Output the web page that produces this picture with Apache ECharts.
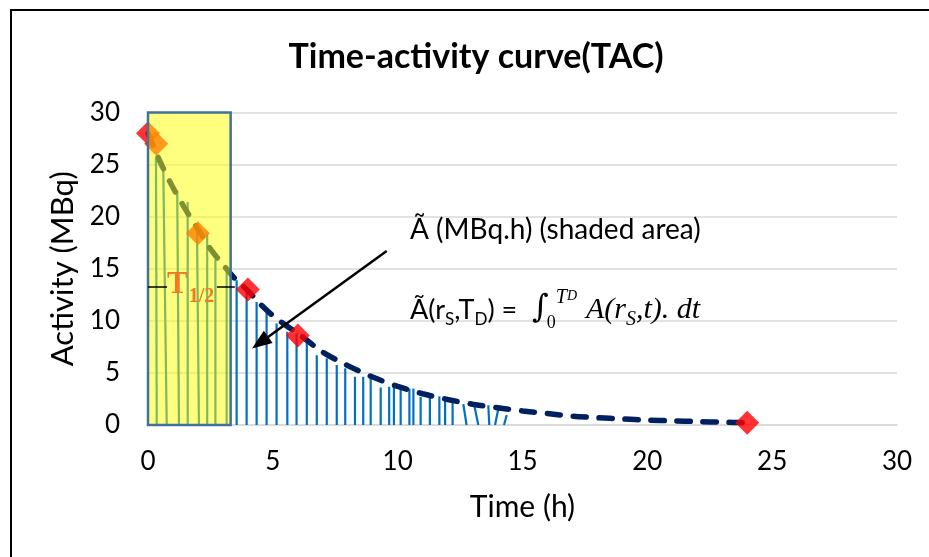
<!DOCTYPE html>
<html><head><meta charset="utf-8">
<script src="https://cdn.jsdelivr.net/npm/echarts@6/dist/echarts.min.js"></script>
<style>html,body{margin:0;padding:0;background:#fff}#c{width:929px;height:557px}</style>
</head><body><div id="c"></div>
<script>
// ---- data ----
const xTicks = [0, 5, 10, 15, 20, 25, 30];
const yTicks = [0, 5, 10, 15, 20, 25, 30];
// fitted TAC curve (dashed)
const curveTime     = [0, 0.5, 1, 1.5, 2, 2.5, 3, 3.5, 4, 4.5, 5, 5.5, 6, 7, 8, 9, 10, 11, 12, 13, 14, 15, 16, 17, 18, 19, 20, 21, 22, 23, 24];
const curveActivity = [28, 25.2, 22.8, 20.7, 18.8, 16.9, 15.4, 14.0, 12.9, 11.6, 10.5, 9.6, 8.8, 7.0, 5.7, 4.6, 3.7, 3.0, 2.45, 2.0, 1.65, 1.35, 1.1, 0.85, 0.7, 0.58, 0.48, 0.4, 0.33, 0.27, 0.22];
// measured points (diamonds)
const measuredTime     = [0, 0.33, 2, 4, 6, 24];
const measuredActivity = [28, 27, 18.4, 13, 8.6, 0.22];
// hatching lines under the curve: top point and foot on the time axis
const hatchTopTime     = [0.32, 0.61, 1.17, 1.59, 1.96, 2.37, 2.70, 3.15, 3.55, 3.95, 4.35, 4.75, 5.15, 5.58, 5.95, 6.36, 6.76, 7.16, 7.56, 7.90, 8.29, 8.62, 8.92, 9.32, 9.66, 9.85, 10.12, 10.47, 10.63, 10.92, 11.29, 11.67, 11.90, 12.20, 12.63, 13.06, 13.63, 14.06, 14.37];
const hatchTopActivity = [25.7, 24.9, 22.5, 21.4, 19.4, 18.4, 15.9, 15.0, 13.9, 12.9, 11.8, 10.9, 9.75, 8.95, 8.8, 8.0, 6.7, 6.4, 5.75, 5.44, 4.63, 4.63, 4.63, 3.6, 3.67, 3.67, 3.6, 3.5, 3.5, 2.7, 2.7, 2.75, 2.7, 2.55, 2.0, 2.0, 1.9, 1.9, 0.96];
const hatchBaseTime    = [0.35, 0.75, 1.24, 1.59, 2.04, 2.37, 2.70, 3.15, 3.55, 3.95, 4.35, 4.75, 5.15, 5.58, 5.95, 6.36, 6.76, 7.16, 7.56, 7.90, 8.29, 8.62, 8.92, 9.32, 9.66, 9.85, 10.12, 10.47, 10.63, 10.92, 11.29, 11.67, 11.90, 12.20, 12.76, 13.23, 13.67, 13.90, 14.26];
// shaded half-life box
const shadeStartTime = 0, shadeEndTime = 3.31, shadeBottom = 0, shadeTop = 30;
// half-life marker level and extent
const halfLifeLevel = 13.3;
const halfLifeSegA = [0, 0.76];
const halfLifeSegB = [2.76, 3.48];
// arrow (time, activity)
const arrowFrom = [9.56, 16.7];
const arrowTo   = [4.49, 7.9];

const chart = echarts.init(document.getElementById('c'), null, {renderer: 'canvas'});
const F = 'Lato, "Noto Sans", sans-serif';
const S = '"Liberation Serif", "DejaVu Serif", serif';

const hatchData = hatchTopTime.map((t, i) => [t, hatchTopActivity[i], hatchBaseTime[i]]);
const curveData = curveTime.map((t, i) => [t, curveActivity[i]]);
const pointData = measuredTime.map((t, i) => [t, measuredActivity[i]]);

// lay out text pieces one after another (for sub/superscripts)
const mctx = document.createElement('canvas').getContext('2d');
function pieces(x0, list, fill) {
  let x = x0;
  return list.map(p => {
    const weight = p.weight || 'normal', style = p.style || 'normal';
    mctx.font = style + ' ' + weight + ' ' + p.size + 'px ' + p.family;
    const w = mctx.measureText(p.text).width;
    x += (p.pre || 0);
    const el = {type: 'text', z: 100, x: x, y: p.y,
      style: {text: p.text, fontSize: p.size, fontFamily: p.family, fontWeight: weight, fontStyle: style,
        fill: fill || '#000', align: 'left', verticalAlign: 'middle', textAlign: 'left', textVerticalAlign: 'middle'}};
    x += w;
    return el;
  });
}

const formula = pieces(410, [
  {text: 'Ã(r', size: 27, family: F, y: 310},
  {text: 'S', size: 17, family: F, y: 320},
  {text: ',T', size: 27, family: F, y: 310},
  {text: 'D', size: 17, family: F, y: 320},
  {text: ') = ', size: 27, family: F, y: 310},
  {text: '∫', size: 32, family: '"DejaVu Serif", serif', style: 'italic', y: 309, pre: 8},
  {text: '0', size: 18, family: S, y: 323, pre: -2},
  {text: 'T', size: 20, family: S, style: 'italic', y: 298},
  {text: 'D', size: 14, family: S, style: 'italic', y: 296},
  {text: 'A(r', size: 30, family: S, style: 'italic', y: 310, pre: 9},
  {text: 'S', size: 20, family: S, style: 'italic', y: 320},
  {text: ',t). dt', size: 30, family: S, style: 'italic', y: 310}
]);
const halfLabel = pieces(167, [
  {text: 'T', size: 31, family: S, weight: 'bold', y: 285},
  {text: '1/2', size: 20, family: S, weight: 'bold', y: 297, pre: 1}
], '#F07A22');

chart.setOption({
  animation: false,
  backgroundColor: '#fff',
  grid: {left: 148, right: 32, top: 112.5, bottom: 132, containLabel: false},
  xAxis: {
    type: 'value', min: xTicks[0], max: xTicks[xTicks.length - 1], interval: xTicks[1] - xTicks[0],
    name: 'Time (h)', nameLocation: 'middle', nameGap: 67,
    nameTextStyle: {fontFamily: F, fontSize: 30, color: '#000'},
    axisLine: {show: true, lineStyle: {color: '#d9d9d9', width: 1.5}},
    axisTick: {show: false},
    axisLabel: {fontFamily: F, fontSize: 26, color: '#000', margin: 24},
    splitLine: {show: false}
  },
  yAxis: {
    type: 'value', min: yTicks[0], max: yTicks[yTicks.length - 1], interval: yTicks[1] - yTicks[0],
    name: 'Activity (MBq)', nameLocation: 'middle', nameGap: 64, nameRotate: 90,
    nameTextStyle: {fontFamily: F, fontSize: 31, color: '#000'},
    axisLine: {show: false}, axisTick: {show: false},
    axisLabel: {fontFamily: F, fontSize: 26, color: '#000', margin: 28},
    splitLine: {show: true, lineStyle: {color: '#d9d9d9', width: 1.5}}
  },
  series: [
    {
      type: 'custom', z: 2, data: hatchData, encode: {x: [0, 2], y: 1},
      renderItem: (params, api) => {
        const p1 = api.coord([api.value(0), api.value(1)]);
        const p2 = api.coord([api.value(2), 0]);
        return {type: 'line', shape: {x1: p1[0], y1: p1[1], x2: p2[0], y2: p2[1]},
          style: {stroke: '#0070C0', lineWidth: 2.2}};
      }
    },
    {
      type: 'line', z: 3, data: curveData, smooth: 0.3, symbol: 'none',
      lineStyle: {color: '#002060', width: 5.5, type: [13, 13], cap: 'round'}
    },
    {
      type: 'scatter', z: 4, data: pointData, symbol: 'diamond', symbolSize: 24,
      itemStyle: {color: '#ff0000'}, clip: false
    },
    {
      type: 'custom', z: 5, data: [[shadeStartTime, shadeBottom, shadeEndTime, shadeTop]],
      encode: {x: [0, 2], y: [1, 3]}, clip: false,
      renderItem: (params, api) => {
        const a = api.coord([api.value(0), api.value(3)]);
        const b = api.coord([api.value(2), api.value(1)]);
        return {type: 'rect', shape: {x: a[0], y: a[1], width: b[0] - a[0], height: b[1] - a[1]},
          style: {fill: 'rgba(255,255,0,0.5)', stroke: '#41719C', lineWidth: 2.5}};
      }
    },
    {
      type: 'line', z: 20, data: [], symbol: 'none', silent: true,
      markLine: {
        z: 20, silent: true, animation: false, label: {show: false},
        data: [
          [{coord: [halfLifeSegA[0], halfLifeLevel], symbol: 'none'}, {coord: [halfLifeSegA[1], halfLifeLevel], symbol: 'none'}],
          [{coord: [halfLifeSegB[0], halfLifeLevel], symbol: 'none'}, {coord: [halfLifeSegB[1], halfLifeLevel], symbol: 'none'}]
        ],
        lineStyle: {color: '#000', width: 1.5, type: 'solid'}
      }
    },
    {
      type: 'line', z: 20, data: [], symbol: 'none', silent: true,
      markLine: {
        z: 20, silent: true, animation: false, label: {show: false},
        symbol: ['none', 'triangle'], symbolSize: [15, 20],
        data: [[{coord: arrowFrom}, {coord: arrowTo}]],
        lineStyle: {color: '#000', width: 2.5, type: 'solid'}
      }
    }
  ],
  graphic: [
    {type: 'rect', z: 0, shape: {x: 11, y: 10, width: 1000, height: 700}, style: {fill: 'none', stroke: '#000', lineWidth: 2}},
    {type: 'text', z: 100, x: 476, y: 57, style: {text: 'Time-activity curve(TAC)', fontSize: 34, fontWeight: 'bold', fontFamily: F, fill: '#000', align: 'center', verticalAlign: 'middle', textAlign: 'center', textVerticalAlign: 'middle'}},
    {type: 'text', z: 100, x: 410, y: 230, style: {text: 'Ã (MBq.h) (shaded area)', fontSize: 28, fontFamily: F, fill: '#000', align: 'left', verticalAlign: 'middle', textAlign: 'left', textVerticalAlign: 'middle'}}
  ].concat(formula, halfLabel)
});
</script>
</body></html>
